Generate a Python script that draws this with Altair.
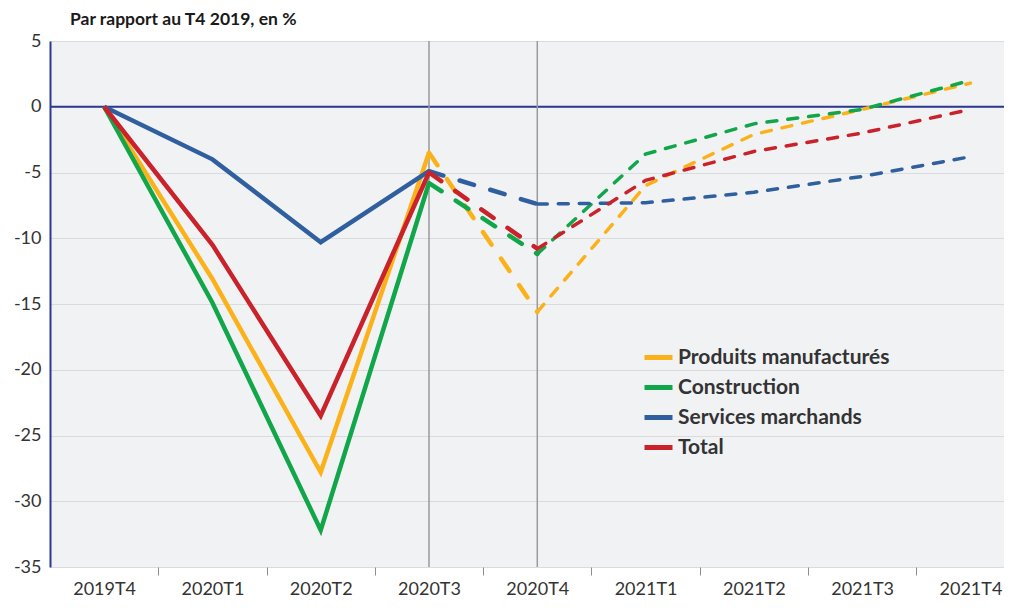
import json
import altair as alt
import pandas as pd

# ---- data ----
quarters = ["2019T4", "2020T1", "2020T2", "2020T3", "2020T4",
            "2021T1", "2021T2", "2021T3", "2021T4"]
series_names = ["Produits manufacturés", "Construction", "Services marchands", "Total"]
produits = [0, -13.1, -27.8, -3.5, -15.6, -6.0, -2.1, -0.2, 1.8]
construction = [0, -14.9, -32.2, -5.8, -11.2, -3.6, -1.3, -0.2, 2.0]
services = [0, -4.0, -10.3, -4.9, -7.4, -7.3, -6.5, -5.3, -3.8]
total = [0, -10.5, -23.5, -5.0, -10.8, -5.6, -3.4, -2.0, -0.2]
colors = ["#fbb21a", "#12a64a", "#2f5f9f", "#c9222a"]
y_ticks = [5, 0, -5, -10, -15, -20, -25, -30, -35]
marker_quarters = ["2020T3", "2020T4"]
title_text = ["Par rapport au T4 2019, en %"]

rows = []
for name, vals in zip(series_names, [produits, construction, services, total]):
    for i, (q, v) in enumerate(zip(quarters, vals)):
        rows.append({"quarter": q, "idx": i, "series": name, "value": v})
df = pd.DataFrame(rows)

solid_df = df[df["idx"] <= 3]
dash1_df = df[(df["idx"] >= 3) & (df["idx"] <= 4)]
dash2_df = df[df["idx"] >= 4]
vrule_df = pd.DataFrame({"idx": [quarters.index(q) for q in marker_quarters]})

FONT = "Lato"
label_expr = "datum.value % 1 === 0 ? " + json.dumps(quarters) + "[round(datum.value)] : ''"
y_scale = alt.Scale(domain=[-35, 5], nice=False)

x_enc = alt.X(
    "idx:Q",
    scale=alt.Scale(domain=[-0.5, 8.31], nice=False, zero=False),
    axis=alt.Axis(
        values=[i * 0.5 for i in range(17)],
        labelExpr=label_expr,
        title=None,
        grid=False,
        domain=False,
        tickSize=8,
        tickColor="#8c8c8c",
        tickWidth=1,
        tickOpacity={"condition": {"test": "datum.value % 1 === 0", "value": 0}, "value": 1},
        labelOverlap=False,
        labelBound=False,
        labelFlush=False,
        labelFont=FONT,
        labelFontSize=18,
        labelColor="#333333",
        labelPadding=5,
    ),
)
y_enc = alt.Y(
    "value:Q",
    scale=y_scale,
    axis=alt.Axis(
        values=y_ticks,
        labelExpr="datum.value + ''",
        title=None,
        grid=True,
        gridColor="#dadbdd",
        gridWidth=1,
        domain=True,
        domainColor="#2b3990",
        domainWidth=2,
        ticks=False,
        labelFont=FONT,
        labelFontSize=18,
        labelColor="#333333",
        labelPadding=9,
    ),
)
color_scale = alt.Scale(domain=series_names, range=colors)

zero_rule = alt.Chart(pd.DataFrame({"z": [0]})).mark_rule(
    color="#2b3990", strokeWidth=2
).encode(y=alt.Y("z:Q", scale=y_scale))

solid = alt.Chart(solid_df).mark_line(strokeWidth=4.5).encode(
    x=x_enc,
    y=y_enc,
    color=alt.Color(
        "series:N",
        scale=color_scale,
        sort=series_names,
        legend=alt.Legend(
            title=None,
            orient="none",
            legendX=592,
            legendY=300,
            direction="vertical",
            symbolType="stroke",
            symbolSize=784,
            symbolStrokeWidth=5,
            rowPadding=3,
            padding=0,
            labelFont=FONT,
            labelFontSize=21,
            labelFontWeight="bold",
            labelColor="#333333",
            labelOffset=3,
            labelLimit=400,
        ),
    ),
    order=alt.Order("idx:Q"),
)

dash1 = alt.Chart(dash1_df).mark_line(
    strokeWidth=4.5, strokeDash=[15, 17], strokeCap="round"
).encode(
    x=x_enc, y=y_enc,
    color=alt.Color("series:N", scale=color_scale, sort=series_names, legend=None),
    order=alt.Order("idx:Q"),
)

dash2 = alt.Chart(dash2_df).mark_line(
    strokeWidth=3.5, strokeDash=[10, 11], strokeCap="round"
).encode(
    x=x_enc, y=y_enc,
    color=alt.Color("series:N", scale=color_scale, sort=series_names, legend=None),
    order=alt.Order("idx:Q"),
)

vrules = alt.Chart(vrule_df).mark_rule(color="#9a9a9a", strokeWidth=1.5).encode(x=x_enc)

title_mark = alt.Chart(pd.DataFrame({"t": title_text})).mark_text(
    align="left", baseline="alphabetic", font=FONT, fontSize=17.5,
    fontWeight="bold", color="#1a1a1a",
).encode(text="t:N", x=alt.value(20), y=alt.value(-16))

chart = alt.layer(zero_rule, vrules, solid, dash1, dash2, title_mark).properties(
    width=954,
    height=526,
    padding={"left": 42, "top": 33, "right": 0, "bottom": 33},
    autosize=alt.AutoSizeParams(type="none"),
).configure(background="white").configure_view(fill="#f1f2f4", stroke=None)

chart.save("out.html", embed_options={"renderer": "svg", "actions": False})
